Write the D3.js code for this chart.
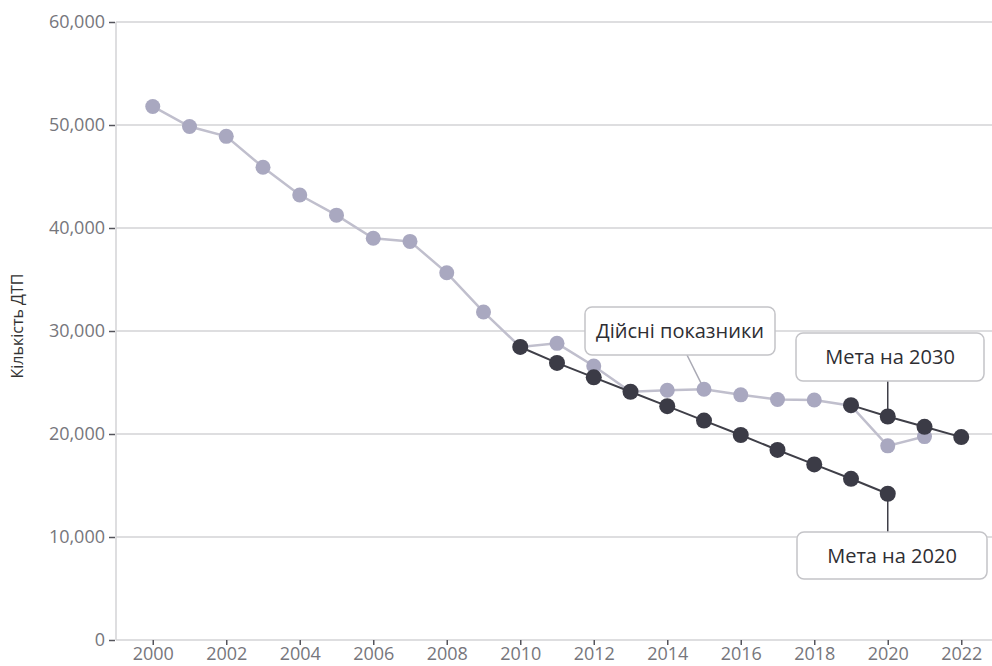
<!DOCTYPE html>
<html>
<head>
<meta charset="utf-8">
<script src="https://cdn.jsdelivr.net/npm/d3@7"></script>
<style>
  html, body { margin: 0; padding: 0; background: #fff; }
  svg { display: block; font-family: "Open Sans", "Noto Sans", sans-serif; }
</style>
</head>
<body>
<svg id="chart" width="992" height="666"></svg>
<script>
// Road accidents per year: actual figures and two reduction targets
const actualYears = d3.range(2000, 2022);
const actualValues = [51800, 49850, 48900, 45900, 43200, 41250, 39000, 38700, 35650, 31850,
                      28450, 28800, 26600, 24100, 24250, 24350, 23800, 23350, 23300, 22750,
                      18850, 19750];
const target2020Years = d3.range(2010, 2021);
const target2020Values = [28450, 26900, 25500, 24100, 22700, 21300, 19900, 18450, 17050, 15650, 14200];
const target2030Years = [2019, 2020, 2021, 2022];
const target2030Values = [22800, 21700, 20700, 19700];
const yTicks = [0, 10000, 20000, 30000, 40000, 50000, 60000];
const xTicks = d3.range(2000, 2023, 2);
const yTitle = "Кількість ДТП";
const labelActual = "Дійсні показники";
const label2030 = "Мета на 2030";
const label2020 = "Мета на 2020";

const svg = d3.select("#chart");
const W = 992;
const plotLeft = 116, plotTop = 22, plotBottom = 640;

const x = d3.scaleLinear().domain([1999, 2023]).range([plotLeft, 998]);
const y = d3.scaleLinear().domain([0, 60000]).range([plotBottom, plotTop]);

const lightPt = "#a9a8c0", lightLine = "#c0bfcd";
const darkPt = "#3b3b46", darkLine = "#3f3f48";

// Horizontal gridlines
svg.append("g").selectAll("line").data(yTicks).join("line")
  .attr("x1", plotLeft).attr("x2", W)
  .attr("y1", d => y(d)).attr("y2", d => y(d))
  .attr("stroke", "#d3d3d6").attr("stroke-width", 1.5);

// Vertical axis line
svg.append("line")
  .attr("x1", plotLeft).attr("x2", plotLeft).attr("y1", plotTop).attr("y2", plotBottom)
  .attr("stroke", "#d3d3d6").attr("stroke-width", 1.5);

// Y axis
const yAxis = svg.append("g").attr("transform", `translate(${plotLeft - 1},0)`)
  .call(d3.axisLeft(y).tickValues(yTicks).tickFormat(d3.format(",")).tickSize(6).tickPadding(4))
  .attr("font-family", null).attr("font-size", null);
yAxis.select(".domain").remove();
yAxis.selectAll(".tick line").attr("stroke", "#55555c").attr("stroke-width", 1.5);
yAxis.selectAll(".tick text").attr("fill", "#76767c").style("font-size", "18px");

// X axis
const xAxis = svg.append("g").attr("transform", `translate(0,${plotBottom})`)
  .call(d3.axisBottom(x).tickValues(xTicks).tickFormat(d3.format("d")).tickSize(5).tickPadding(2))
  .attr("font-family", null).attr("font-size", null);
xAxis.select(".domain").remove();
xAxis.selectAll(".tick line").attr("stroke", "#55555c").attr("stroke-width", 1.5);
xAxis.selectAll(".tick text").attr("fill", "#76767c").style("font-size", "18px");

// Y axis title
svg.append("text")
  .attr("transform", `translate(23,${(plotTop + plotBottom) / 2 - 5}) rotate(-90)`)
  .attr("text-anchor", "middle")
  .attr("fill", "#333")
  .style("font-size", "16px")
  .text(yTitle);

const line = d3.line().x(d => x(d[0])).y(d => y(d[1]));
const actual = actualYears.map((yr, i) => [yr, actualValues[i]]);
const t2020 = target2020Years.map((yr, i) => [yr, target2020Values[i]]);
const t2030 = target2030Years.map((yr, i) => [yr, target2030Values[i]]);

// Annotation boxes with connectors
function callout(x0, y0, w, h, text, sx1, sy1, sx2, sy2, stroke) {
  svg.append("line")
    .attr("x1", sx1).attr("y1", sy1).attr("x2", sx2).attr("y2", sy2)
    .attr("stroke", stroke).attr("stroke-width", 1.5);
  svg.append("rect")
    .attr("x", x0).attr("y", y0).attr("width", w).attr("height", h)
    .attr("rx", 7).attr("fill", "#fff")
    .attr("stroke", "#c4c4c8").attr("stroke-width", 1.5);
  svg.append("text")
    .attr("x", x0 + w / 2).attr("y", y0 + h / 2)
    .attr("dy", "0.35em").attr("text-anchor", "middle")
    .attr("fill", "#2e2e33").style("font-size", "20px").style("font-weight", 500)
    .text(text);
}

// Actual series
svg.append("path").datum(actual).attr("d", line)
  .attr("fill", "none").attr("stroke", lightLine).attr("stroke-width", 2.5);

// Target lines
svg.append("path").datum(t2020).attr("d", line)
  .attr("fill", "none").attr("stroke", darkLine).attr("stroke-width", 2);
svg.append("path").datum(t2030).attr("d", line)
  .attr("fill", "none").attr("stroke", darkLine).attr("stroke-width", 2);

// Connectors and labels
callout(585, 307, 190, 48, labelActual, 687, 355, x(2015), y(actualValues[15]), "#a9a9b4");
callout(796, 333, 188, 48, label2030, x(2020), 381, x(2020), y(target2030Values[1]), darkLine);
callout(797, 532, 190, 47, label2020, x(2020), y(target2020Values[10]), x(2020), 532, darkLine);

svg.append("g").selectAll("circle").data(actual).join("circle")
  .attr("cx", d => x(d[0])).attr("cy", d => y(d[1])).attr("r", 7.5)
  .attr("fill", lightPt);

svg.append("g").selectAll("circle").data(t2020.concat(t2030)).join("circle")
  .attr("cx", d => x(d[0])).attr("cy", d => y(d[1])).attr("r", 8)
  .attr("fill", darkPt);
</script>
</body>
</html>
